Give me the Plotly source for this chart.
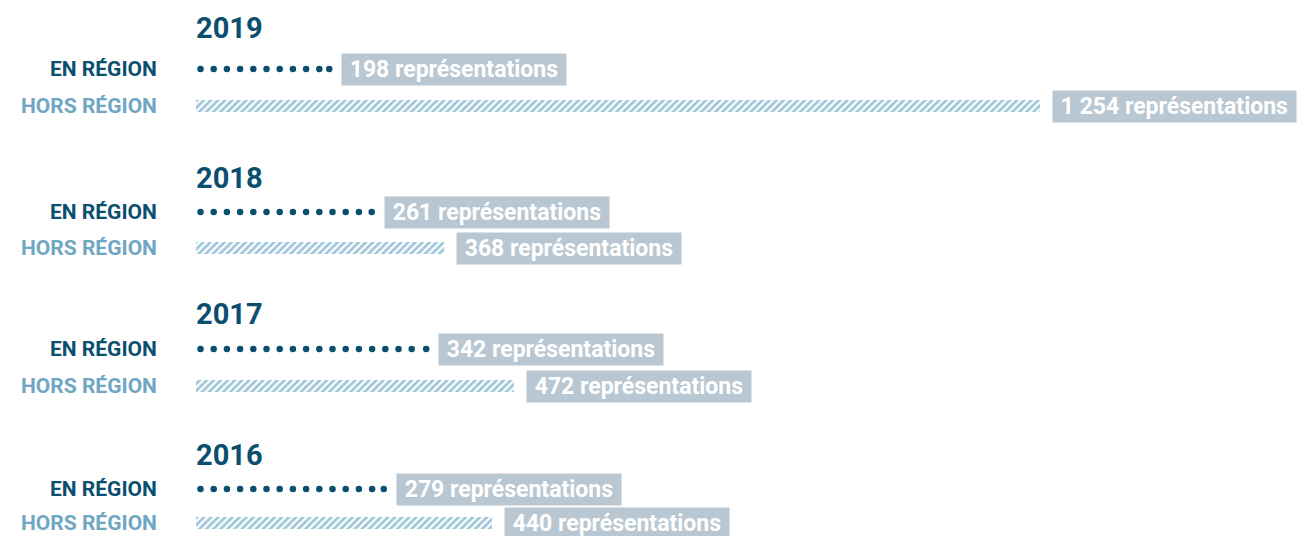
import numpy as np
import plotly.graph_objects as go

# ---- data ----
years = ["2019", "2018", "2017", "2016"]
en_region = [198, 261, 342, 279]
hors_region = [1254, 368, 472, 440]
row_labels = ["EN RÉGION", "HORS RÉGION"]
unit_label = "représentations"

# ---- layout constants (pixel-based y axis) ----
W, H = 1315, 536
EN_Y = [69, 212, 349, 489]
HORS_Y = [106, 248, 386, 523]
TITLE_Y = [27.5, 178, 314, 455]
X0_PX = 196          # pixel where value 0 sits
XMAX_PX = 1040       # pixel where the largest value ends
scale = (XMAX_PX - X0_PX) / max(hors_region)
x_range = [-X0_PX / scale, (W - X0_PX) / scale]
DOT_STEP = 13.2 / scale

DARK = "#0b4f6f"
LIGHT = "#3f8fb3"
LABEL_LIGHT = "#6fa6c2"
BOX = "#b9c7d2"
FONT = "Roboto"


def fmt(v):
    return f"{v:,}".replace(",", " ")


fig = go.Figure()

# hatched bars (hors région)
fig.add_trace(go.Bar(
    x=hors_region, y=HORS_Y, base=0, orientation="h", width=12,
    marker=dict(color="white", line=dict(width=0),
                pattern=dict(shape="/", fgcolor=LIGHT, bgcolor="white",
                             size=5, solidity=0.55)),
    hoverinfo="skip", showlegend=False,
))

# dotted lines (en région)
for v, y in zip(en_region, EN_Y):
    xs = list(np.arange(4.5 / scale, v - DOT_STEP * 0.4, DOT_STEP)) + [v]
    fig.add_trace(go.Scatter(
        x=xs, y=[y] * len(xs), mode="markers",
        marker=dict(size=6.5, color=DARK, line=dict(width=0)),
        hoverinfo="skip", showlegend=False,
    ))

ann = []
for i, yr in enumerate(years):
    ann.append(dict(x=0, y=TITLE_Y[i], xref="x", yref="y", text=yr,
                    xanchor="left", yanchor="middle", showarrow=False, xshift=-2,
                    font=dict(family=FONT, size=29, color=DARK, weight=700)))
    ann.append(dict(x=0, y=EN_Y[i], xref="x", yref="y", text=row_labels[0],
                    xanchor="right", yanchor="middle", showarrow=False, xshift=-37,
                    font=dict(family=FONT, size=21, color=DARK, weight=700)))
    ann.append(dict(x=0, y=HORS_Y[i], xref="x", yref="y", text=row_labels[1],
                    xanchor="right", yanchor="middle", showarrow=False, xshift=-37,
                    font=dict(family=FONT, size=21, color=LABEL_LIGHT, weight=700)))
    for v, y in ((en_region[i], EN_Y[i]), (hors_region[i], HORS_Y[i])):
        ann.append(dict(x=v, y=y, xref="x", yref="y",
                        text=f"\u00a0{fmt(v)} {unit_label}\u00a0",
                        xanchor="left", yanchor="middle", showarrow=False, xshift=12,
                        bgcolor=BOX, borderpad=2,
                        font=dict(family=FONT, size=23, color="white", weight=700)))

fig.update_layout(
    width=W, height=H,
    margin=dict(l=0, r=0, t=0, b=0),
    paper_bgcolor="white", plot_bgcolor="white",
    xaxis=dict(range=x_range, visible=False, fixedrange=True),
    yaxis=dict(range=[H, 0], visible=False, fixedrange=True),
    annotations=ann,
    bargap=0,
    showlegend=False,
)

fig.write_html("out.html", config={"displayModeBar": False},
               post_script="document.body.style.margin='0';")
